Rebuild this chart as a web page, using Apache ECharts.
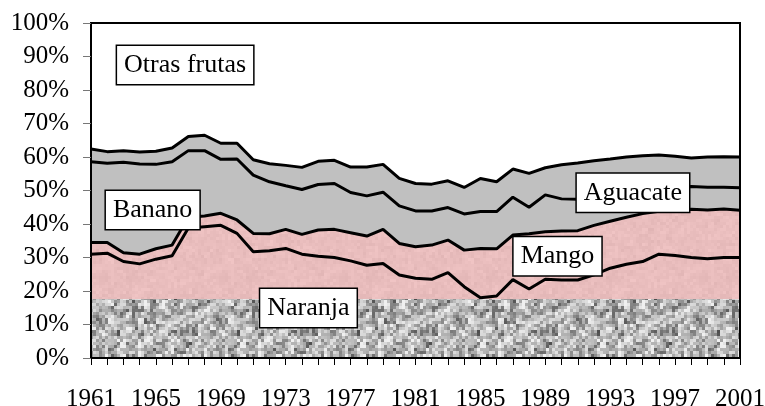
<!DOCTYPE html>
<html>
<head>
<meta charset="utf-8">
<script src="https://cdn.jsdelivr.net/npm/echarts@6/dist/echarts.min.js"></script>
<style>
  html, body { margin: 0; padding: 0; background: #fff; }
  #chart { width: 765px; height: 406px; }
</style>
</head>
<body>
<div id="chart"></div>
<script>
const years = [1961, 1962, 1963, 1964, 1965, 1966, 1967, 1968, 1969, 1970,
  1971, 1972, 1973, 1974, 1975, 1976, 1977, 1978, 1979, 1980,
  1981, 1982, 1983, 1984, 1985, 1986, 1987, 1988, 1989, 1990,
  1991, 1992, 1993, 1994, 1995, 1996, 1997, 1998, 1999, 2000, 2001]

// tope acumulado de cada franja (%)
const naranja = [31.0, 31.3, 28.8, 28.1, 29.5, 30.5, 38.8, 39.2, 39.6, 37.2,
  31.7, 32.0, 32.7, 31.0, 30.4, 30.0, 29.0, 27.7, 28.2, 24.8,
  23.8, 23.5, 25.5, 21.3, 18.0, 18.5, 23.4, 20.6, 23.5, 23.3,
  23.3, 24.8, 26.8, 28.0, 28.8, 31.0, 30.6, 30.0, 29.6, 30.0, 30.0]
const hastaMango = [34.5, 34.5, 31.4, 31.0, 32.6, 33.7, 42.0, 42.4, 43.2, 41.2,
  37.2, 37.1, 38.4, 36.9, 38.2, 38.4, 37.4, 36.4, 38.4, 34.2,
  33.2, 33.7, 35.2, 32.2, 32.7, 32.6, 36.7, 37.1, 37.7, 37.9,
  38.0, 39.6, 40.8, 42.0, 43.1, 43.8, 44.1, 44.4, 44.2, 44.5, 44.1]
const hastaAguacate = [58.6, 58.1, 58.4, 57.9, 57.8, 58.6, 61.9, 61.9, 59.3, 59.4,
  54.6, 52.6, 51.4, 50.3, 51.8, 52.1, 49.4, 48.4, 49.5, 45.4,
  43.9, 43.9, 44.9, 43.0, 43.7, 43.7, 48.0, 45.0, 48.7, 47.5,
  47.4, 47.8, 48.4, 49.2, 49.9, 50.5, 51.0, 51.2, 51.0, 51.0, 50.8]
const hastaBanano = [62.4, 61.6, 61.9, 61.5, 61.7, 62.7, 66.1, 66.5, 64.1, 64.1,
  59.2, 58.0, 57.5, 56.9, 58.7, 59.0, 57.0, 57.0, 57.8, 53.6,
  52.1, 51.9, 52.9, 50.9, 53.6, 52.6, 56.4, 55.1, 56.8, 57.7,
  58.2, 58.9, 59.4, 60.0, 60.4, 60.6, 60.2, 59.7, 60.0, 60.1, 60.0]
// la trama gris de Naranja llega plana hasta aquí
const tramaNaranja = 17.6

const etiquetas = [
  { texto: 'Otras frutas', anio: 1966.8, valor: 87.5 },
  { texto: 'Banano', anio: 1964.8, valor: 44.2 },
  { texto: 'Aguacate', anio: 1994.4, valor: 49.3 },
  { texto: 'Mango', anio: 1989.75, valor: 30.4 },
  { texto: 'Naranja', anio: 1974.4, valor: 14.9 }
]

const FONT = '"Liberation Serif", "Times New Roman", serif'

const lcg = (seed) => {
  let s = seed
  return () => (s = (s * 1664525 + 1013904223) >>> 0) / 4294967296
}

// trama de ruido: una capa gruesa y otra fina mezcladas
const noise = (size, cell, seed, colorOf) => {
  const c = document.createElement('canvas')
  c.width = size
  c.height = size
  const ctx = c.getContext('2d')
  const rnd = lcg(seed)
  const n = size / cell
  const coarse = []
  for (let i = 0; i < (n / 2) * (n / 2); i++) coarse.push(rnd())
  for (let y = 0; y < n; y++) {
    for (let x = 0; x < n; x++) {
      const k = Math.floor(y / 2) * (n / 2) + Math.floor(x / 2)
      const r = 0.45 * coarse[k] + 0.55 * rnd()
      ctx.fillStyle = colorOf(r)
      ctx.fillRect(x * cell, y * cell, cell, cell)
    }
  }
  return c
}

const grisTrama = noise(120, 3, 7, (r) => {
  const v = Math.max(70, Math.min(240, Math.round(250 - Math.pow(r, 1.4) * 180)))
  return `rgb(${v},${v},${v})`
})
const rosaTrama = noise(120, 3, 11, (r) => {
  const d = Math.round((r - 0.5) * 16)
  return `rgb(${233 + d},${189 + d},${189 + d})`
})

const toPairs = (arr) => years.map((y, i) => [y, arr[i]])

const lineSeries = (name, arr, fill) => ({
  name,
  type: 'line',
  data: toPairs(arr),
  symbol: 'none',
  lineStyle: { color: '#000', width: 3 },
  areaStyle: { color: fill, opacity: 1 },
  emphasis: { disabled: true }
})

const chart = echarts.init(document.getElementById('chart'))

chart.setOption({
  animation: false,
  grid: {
    left: 91, right: 25, top: 23, bottom: 48,
    outerBoundsMode: 'none',
    containLabel: false,
    show: true, borderColor: '#000', borderWidth: 2, z: 10
  },
  xAxis: {
    type: 'value',
    min: 1961,
    max: 2001,
    interval: 1,
    z: 10,
    axisLine: { lineStyle: { color: '#000', width: 2 } },
    axisTick: { length: 7, lineStyle: { color: '#000', width: 1 } },
    splitLine: { show: false },
    axisLabel: {
      margin: 29,
      fontFamily: FONT,
      fontSize: 25,
      color: '#000',
      formatter: (v) => ((v - 1961) % 4 === 0 ? String(v) : '')
    }
  },
  yAxis: {
    type: 'value',
    min: 0,
    max: 100,
    interval: 10,
    z: 10,
    axisLine: { show: true, lineStyle: { color: '#000', width: 2 } },
    axisTick: { show: true, length: 8, lineStyle: { color: '#777', width: 1 } },
    splitLine: { show: false },
    axisLabel: {
      margin: 22,
      fontFamily: FONT,
      fontSize: 25,
      color: '#000',
      formatter: '{value}%'
    }
  },
  series: [
    lineSeries('Banano', hastaBanano, '#c0c0c0'),
    lineSeries('Aguacate', hastaAguacate, '#c0c0c0'),
    lineSeries('Mango', hastaMango, { image: rosaTrama, repeat: 'repeat' }),
    lineSeries('Naranja', naranja, { image: rosaTrama, repeat: 'repeat' }),
    {
      name: 'Trama naranja',
      type: 'line',
      data: years.map((y) => [y, tramaNaranja]),
      symbol: 'none',
      lineStyle: { width: 0 },
      areaStyle: { color: { image: grisTrama, repeat: 'repeat' }, opacity: 1 },
      emphasis: { disabled: true },
      z: 3,
      markPoint: {
        z: 20,
        symbol: 'rect',
        symbolSize: 1,
        itemStyle: { color: 'rgba(0,0,0,0)' },
        label: {
          show: true,
          position: 'inside',
          fontFamily: FONT,
          fontSize: 26,
          lineHeight: 28,
          color: '#000',
          backgroundColor: '#fff',
          borderColor: '#000',
          borderWidth: 1.5,
          padding: [5, 7, 5, 7],
          formatter: (p) => p.name
        },
        data: etiquetas.map((e) => ({ name: e.texto, coord: [e.anio, e.valor] }))
      }
    }
  ]
})
</script>
</body>
</html>
